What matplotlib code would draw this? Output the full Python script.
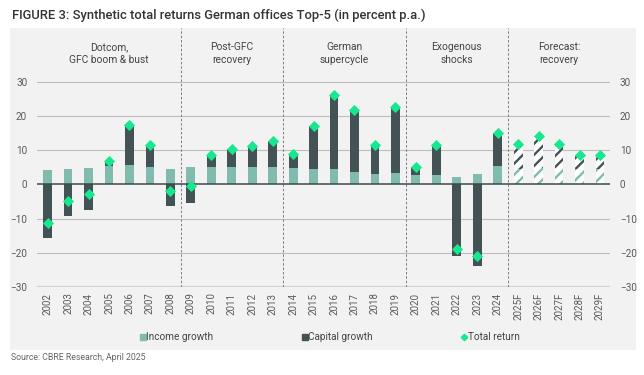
import numpy as np
import matplotlib
matplotlib.use("Agg")
import matplotlib.pyplot as plt
from matplotlib.patches import Rectangle
from matplotlib.lines import Line2D

plt.rcParams['font.family'] = ['Roboto', 'DejaVu Sans']
plt.rcParams['hatch.linewidth'] = 1.7

years = ['2002', '2003', '2004', '2005', '2006', '2007', '2008', '2009', '2010',
         '2011', '2012', '2013', '2014', '2015', '2016', '2017', '2018', '2019',
         '2020', '2021', '2022', '2023', '2024',
         '2025F', '2026F', '2027F', '2028F', '2029F']
income = [4.3, 4.6, 4.7, 5.5, 5.7, 5.1, 4.6, 5.0, 5.2, 5.1, 5.1, 5.1, 4.7, 4.6,
          4.5, 3.8, 3.2, 3.3, 2.7, 2.8, 2.1, 3.2, 5.3,
          4.6, 4.8, 4.8, 4.5, 4.5]
capital = [-15.6, -9.3, -7.6, 1.4, 11.7, 6.4, -6.4, -5.5, 3.3, 5.3, 6.1, 7.6, 4.1, 12.4,
           21.8, 17.9, 8.3, 19.3, 2.5, 8.7, -20.9, -24.0, 9.9,
           7.3, 9.4, 7.0, 4.1, 4.2]
total = [-11.3, -4.7, -2.9, 7.0, 17.4, 11.5, -1.8, -0.5, 8.5, 10.4, 11.2, 12.7, 8.8, 17.0,
         26.3, 21.7, 11.5, 22.6, 5.2, 11.5, -18.8, -20.8, 15.2,
         11.9, 14.2, 11.8, 8.6, 8.7]
forecast = [y.endswith('F') for y in years]

regions = ['Dotcom,\nGFC boom & bust', 'Post-GFC\nrecovery', 'German\nsupercycle',
           'Exogenous\nshocks', 'Forecast:\nrecovery']
region_bounds = [-0.5, 6.5, 11.5, 17.5, 22.5, 27.5]

inc_col = '#80bbad'
cap_col = '#435254'
tot_col = '#17e88f'
txt_col = '#5a5a5a'

fig = plt.figure(figsize=(6.44, 3.75), dpi=100)
fig.patches.append(Rectangle((10/644, 25/375), 626/644, 322/375, transform=fig.transFigure,
                             facecolor='#f2f2f2', edgecolor='none', zorder=-10))

ax = fig.add_axes([37/644, 88/375, 573/644, 259/375])
ax.set_facecolor('none')

x = np.arange(len(years))
w = 0.43
for i in range(len(years)):
    cap_bottom = income[i] if capital[i] > 0 else 0
    if forecast[i]:
        ax.bar(x[i], income[i], w, facecolor='white', edgecolor=inc_col, hatch='///',
               linewidth=0, zorder=3)
        ax.bar(x[i], capital[i], w, bottom=cap_bottom, facecolor='white', edgecolor=cap_col,
               hatch='///', linewidth=0, zorder=3)
    else:
        ax.bar(x[i], income[i], w, color=inc_col, zorder=3)
        ax.bar(x[i], capital[i], w, bottom=cap_bottom, color=cap_col, zorder=3)
ax.plot(x, total, 'D', color=tot_col, markersize=5.5, markeredgewidth=0.6, zorder=5)

ax.set_xlim(-0.52, 27.49)
ax.set_ylim(-30, 45.8)
for v in [-20, -10, 10, 20, 30]:
    ax.axhline(v, color='#bdbdbd', linewidth=0.8, zorder=1)
ax.axhline(-30, color='#d2d2d2', linewidth=1.6, zorder=1)
ax.axhline(0, color='#3c4a4c', linewidth=1.1, zorder=4)

for b in region_bounds[1:-1]:
    ax.axvline(b, ymin=0, ymax=1, color='#7a7a7a', linewidth=0.7,
               linestyle=(0, (2.5, 2)), zorder=2)
for k, r in enumerate(regions):
    cx = (region_bounds[k] + region_bounds[k + 1]) / 2
    ax.text(cx, 38.3, r, ha='center', va='center', fontsize=7.4, color='#444444',
            linespacing=1.35)

for s in ax.spines.values():
    s.set_visible(False)
ax.set_xticks(x)
ax.set_xticklabels(years, rotation=90, fontsize=7, color=txt_col)
ax.set_yticks([-30, -20, -10, 0, 10, 20, 30])
ax.tick_params(axis='both', length=0)
ax.tick_params(axis='x', pad=4)
ax.tick_params(axis='y', labelsize=7.2, labelcolor=txt_col, pad=7,
               labelleft=True, labelright=True)

handles = [Line2D([], [], marker='s', linestyle='none', color=inc_col, markersize=4.3),
           Line2D([], [], marker='s', linestyle='none', color=cap_col, markersize=4.3),
           Line2D([], [], marker='D', linestyle='none', color=tot_col, markersize=3.3)]
fig.legend(handles, ['Income growth', 'Capital growth', 'Total return'], loc='center',
           bbox_to_anchor=(330/644, 1 - 337/375), ncol=3, frameon=False, fontsize=7.2,
           handlelength=0.5, handletextpad=0.1, columnspacing=8.9, labelcolor='#444444')

fig.text(12/644, 1 - 15.5/375, 'FIGURE 3: Synthetic total returns German offices Top-5 (in percent p.a.)',
         fontsize=9.4, color='#333333', va='center', ha='left', fontweight='medium')
fig.text(11/644, 1 - 357/375, 'Source: CBRE Research, April 2025', fontsize=6.3,
         color='#666666', va='center', ha='left')

fig.savefig('out.png', dpi=100)
